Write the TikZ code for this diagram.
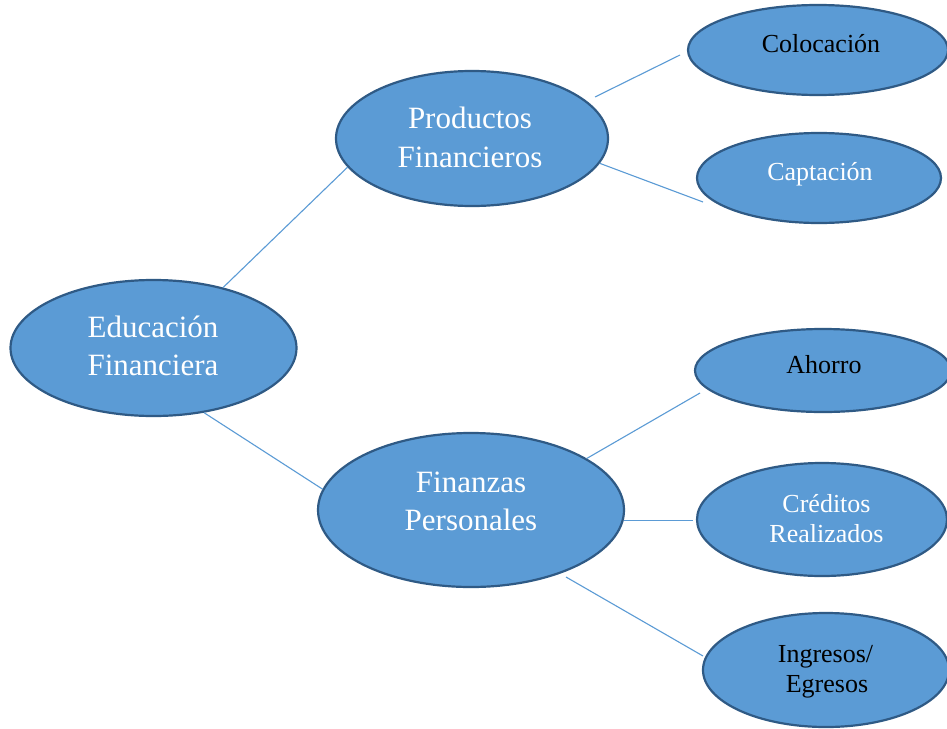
\documentclass[tikz,border=0pt]{standalone}
\usepackage{fontspec}
\setmainfont{Liberation Serif}
\usetikzlibrary{shapes.geometric}
\definecolor{bubblefill}{HTML}{5B9BD5}
\definecolor{bubbleedge}{HTML}{2F5A85}
\definecolor{linkblue}{HTML}{5B9BD5}
\tikzset{
  bubble/.style={ellipse, draw=bubbleedge, fill=bubblefill, line width=2.2pt, inner sep=0pt},
  link/.style={draw=linkblue, line width=1.1pt},
  bigtxt/.style={anchor=base, inner sep=0pt, font=\fontsize{31}{38}\selectfont},
  smalltxt/.style={anchor=base, inner sep=0pt, font=\fontsize{26}{30}\selectfont},
}
\begin{document}
\begin{tikzpicture}[x=1pt,y=-1pt]
\useasboundingbox (0,0) rectangle (947,728);
\clip (0,0) rectangle (947,728);
\fill[white] (0,0) rectangle (947,728);

% ellipses
\node[bubble, minimum width=286pt, minimum height=136pt] (edu) at (153.5,348) {};
\node[bubble, minimum width=272pt, minimum height=135pt] (prod) at (472,138.5) {};
\node[bubble, minimum width=306pt, minimum height=154pt] (fin) at (471,510) {};
\node[bubble, minimum width=260pt, minimum height=90pt] (col) at (818,50) {};
\node[bubble, minimum width=244pt, minimum height=90pt] (cap) at (819,178) {};
\node[bubble, minimum width=256pt, minimum height=83pt] (aho) at (823,370.5) {};
\node[bubble, minimum width=250pt, minimum height=113pt] (cre) at (822,519.5) {};
\node[bubble, minimum width=246pt, minimum height=114pt] (ing) at (826,670) {};

% free ends of the connectors
\coordinate (prodTR) at (595,97);
\coordinate (finBR) at (566,577);
\coordinate (colL) at (680,55);
\coordinate (capL) at (703,202);
\coordinate (ahoL) at (700,393);
\coordinate (creL) at (693,522);
\coordinate (ingL) at (703,656);

% connectors
\draw[link] (edu.41) -- (prod.193.6);
\draw[link] (edu.-52.7) -- (fin.172.5);
\draw[link] (prodTR) -- (colL);
\draw[link] (prod.-11.9) -- (capL);
\draw[link] (fin.24) -- (ahoL);
\draw[link] (fin.-4.5) -- (fin.-4.5 -| creL);
\draw[link] (finBR) -- (ingL);

% labels
\node[bigtxt, text=white] (edu1) at (153,337) {Educación};
\node[bigtxt, text=white] (edu2) at (153,375) {Financiera};
\node[bigtxt, text=white] (prod1) at (470,128) {Productos};
\node[bigtxt, text=white] (prod2) at (470,167) {Financieros};
\node[bigtxt, text=white] (fin1) at (471,492) {Finanzas};
\node[bigtxt, text=white] (fin2) at (471,530) {Personales};
\node[smalltxt, text=black] (col1) at (821,52) {Colocación};
\node[smalltxt, text=white] (cap1) at (820,180) {Captación};
\node[smalltxt, text=black] (aho1) at (824,373) {Ahorro};
\node[smalltxt, text=white] (cre1) at (826.5,512) {Créditos};
\node[smalltxt, text=white] (cre2) at (826.5,542) {Realizados};
\node[smalltxt, text=black] (ing1) at (825.5,662) {Ingresos/};
\node[smalltxt, text=black] (ing2) at (827,692) {Egresos};
\end{tikzpicture}
\end{document}
